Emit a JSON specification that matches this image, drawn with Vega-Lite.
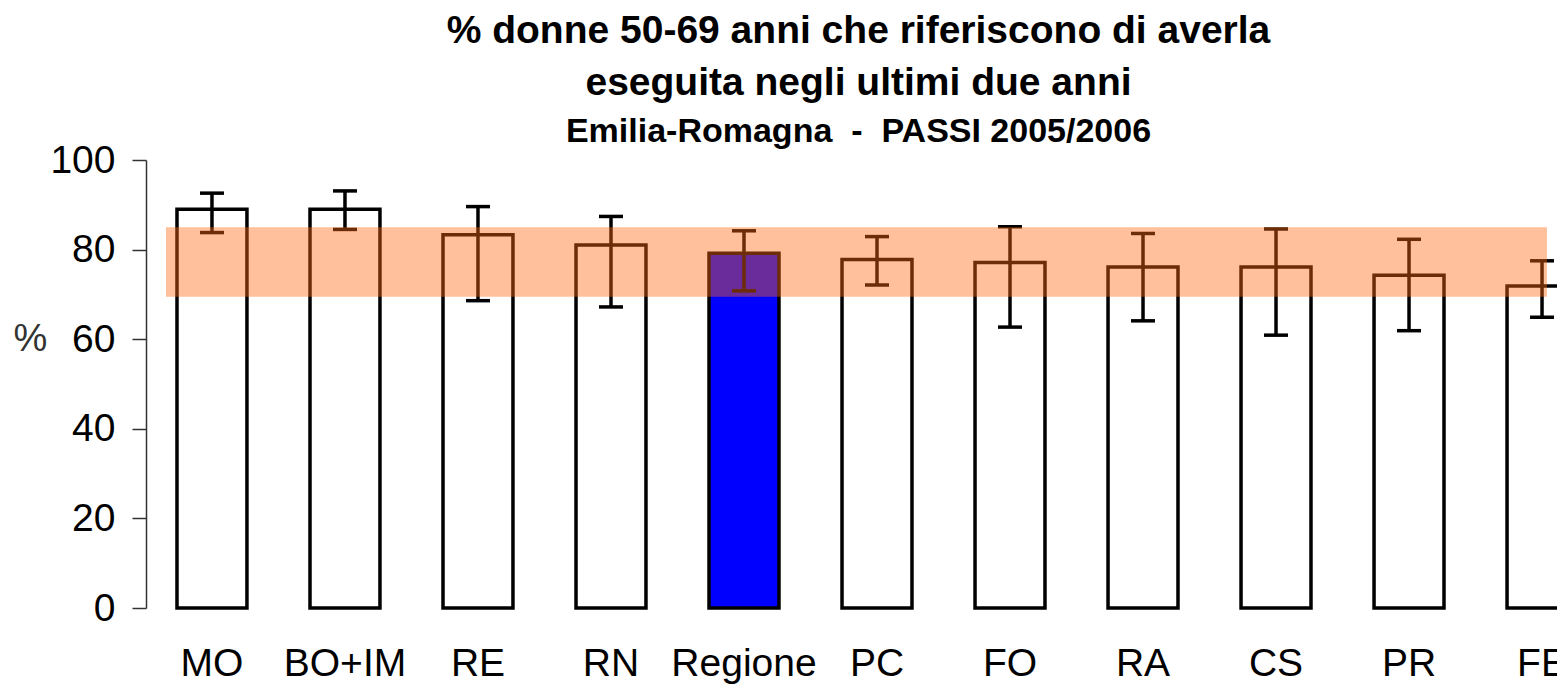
{
  "$schema": "https://vega.github.io/schema/vega-lite/v6.json",
  "autosize": "none",
  "width": 1411,
  "height": 448,
  "padding": {"left": 146, "top": 160, "right": 0, "bottom": 78},
  "background": "white",
  "title": {
    "text": ["% donne 50-69 anni che riferiscono di averla", "eseguita negli ultimi due anni"],
    "subtitle": "Emilia-Romagna\u00a0 -\u00a0 PASSI 2005/2006",
    "font": "Liberation Sans",
    "fontSize": 39,
    "fontWeight": "bold",
    "color": "black",
    "lineHeight": 52,
    "subtitleFont": "Liberation Sans",
    "subtitleFontSize": 34,
    "subtitleFontWeight": "bold",
    "subtitleColor": "black",
    "subtitlePadding": 12,
    "anchor": "middle",
    "offset": -8,
    "dx": 7
  },
  "config": {"view": {"stroke": null}},
  "datasets": {
    "bars": [
      {"area": "MO", "pct": 89.0, "lo": 83.8, "hi": 92.6},
      {"area": "BO+IM", "pct": 89.0, "lo": 84.5, "hi": 93.1},
      {"area": "RE", "pct": 83.3, "lo": 68.6, "hi": 89.6},
      {"area": "RN", "pct": 81.0, "lo": 67.2, "hi": 87.4},
      {"area": "Regione", "pct": 79.2, "lo": 70.8, "hi": 84.2},
      {"area": "PC", "pct": 77.8, "lo": 72.1, "hi": 82.9},
      {"area": "FO", "pct": 77.1, "lo": 62.7, "hi": 85.1},
      {"area": "RA", "pct": 76.1, "lo": 64.1, "hi": 83.6},
      {"area": "CS", "pct": 76.1, "lo": 60.9, "hi": 84.6},
      {"area": "PR", "pct": 74.3, "lo": 61.9, "hi": 82.3},
      {"area": "FE", "pct": 71.9, "lo": 64.9, "hi": 77.5}
    ],
    "band": [{"lo": 69.5, "hi": 85.0}]
  },
  "layer": [
    {
      "data": {"name": "bars"},
      "mark": {"type": "bar", "stroke": "black", "strokeWidth": 3.5},
      "encoding": {
        "x": {
          "field": "area",
          "type": "nominal",
          "scale": {
            "domain": ["MO", "BO+IM", "RE", "RN", "Regione", "PC", "FO", "RA", "CS", "PR", "FE"],
            "range": [0, 1462],
            "paddingInner": 0.474,
            "paddingOuter": 0.233
          },
          "axis": {
            "title": null,
            "domain": false,
            "ticks": false,
            "tickSize": 0,
            "labelAngle": 0,
            "labelFont": "Liberation Sans",
            "labelFontSize": 39,
            "labelColor": "black",
            "labelPadding": 36
          }
        },
        "y": {
          "field": "pct",
          "type": "quantitative",
          "scale": {"domain": [0, 100]},
          "axis": {
            "values": [0, 20, 40, 60, 80, 100],
            "grid": false,
            "domainColor": "#333333",
            "domainWidth": 1.5,
            "tickColor": "#333333",
            "tickWidth": 1.5,
            "tickSize": 14,
            "labelFont": "Liberation Sans",
            "labelFontSize": 39,
            "labelColor": "black",
            "labelPadding": 17,
            "title": "%",
            "titleAngle": 0,
            "titleFont": "Liberation Sans",
            "titleFontSize": 38,
            "titleFontWeight": "normal",
            "titleColor": "#333333",
            "titleX": -116,
            "titleY": 179,
            "titleAlign": "center",
            "titleBaseline": "middle"
          }
        },
        "fill": {
          "condition": {"test": "datum.area === 'Regione'", "value": "#0000FF"},
          "value": "white"
        }
      }
    },
    {
      "data": {"name": "bars"},
      "mark": {"type": "rule", "strokeWidth": 3.5, "color": "black"},
      "encoding": {
        "x": {"field": "area", "type": "nominal"},
        "y": {"field": "lo", "type": "quantitative"},
        "y2": {"field": "hi"}
      }
    },
    {
      "data": {"name": "bars"},
      "mark": {"type": "tick", "size": 24, "thickness": 3.5, "color": "black", "orient": "horizontal", "opacity": 1},
      "encoding": {
        "x": {"field": "area", "type": "nominal"},
        "y": {"field": "lo", "type": "quantitative"}
      }
    },
    {
      "data": {"name": "bars"},
      "mark": {"type": "tick", "size": 24, "thickness": 3.5, "color": "black", "orient": "horizontal", "opacity": 1},
      "encoding": {
        "x": {"field": "area", "type": "nominal"},
        "y": {"field": "hi", "type": "quantitative"}
      }
    },
    {
      "data": {"name": "band"},
      "mark": {"type": "rect", "color": "#FF6A10", "opacity": 0.42},
      "encoding": {
        "x": {"datum": "MO", "type": "nominal", "bandPosition": -0.157},
        "x2": {"datum": "FE", "bandPosition": 0.57},
        "y": {"field": "hi", "type": "quantitative"},
        "y2": {"field": "lo"}
      }
    }
  ]
}
